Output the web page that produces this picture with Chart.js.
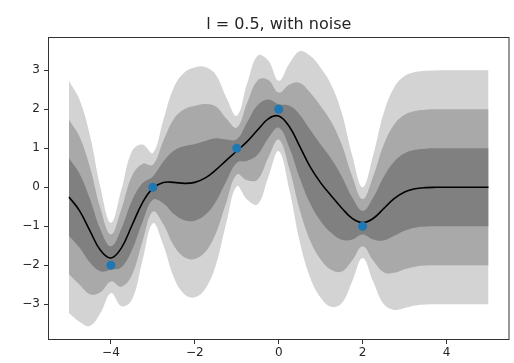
<!DOCTYPE html>
<html>
<head>
<meta charset="utf-8">
<script src="https://cdn.jsdelivr.net/npm/chart.js@4.4.1/dist/chart.umd.min.js"></script>
<style>
  html, body { margin: 0; padding: 0; background: #fff; }
</style>
</head>
<body>
<canvas id="chart-gp" width="514" height="363"></canvas>
<script>
// GP posterior (l = 0.5, with noise)
const xs = [-5, -4.75, -4.5, -4.25, -4, -3.75, -3.5, -3.25, -3, -2.75, -2.5, -2.25, -2, -1.75, -1.5, -1.25, -1, -0.75, -0.5, -0.25,
  0, 0.25, 0.5, 0.75, 1, 1.25, 1.5, 1.75, 2, 2.25, 2.5, 2.75, 3, 3.25, 3.5, 3.75, 4, 4.25, 4.5, 4.75, 5];
const meanY = [-0.250, -0.599, -1.117, -1.619, -1.815, -1.556, -0.982, -0.399, -0.023, 0.121, 0.125, 0.100, 0.125, 0.240, 0.444, 0.691, 0.930, 1.177, 1.473, 1.755,
  1.827, 1.558, 1.049, 0.524, 0.112, -0.219, -0.532, -0.799, -0.909, -0.802, -0.551, -0.295, -0.123, -0.040, -0.010, -0.002, 0, 0, 0, 0, 0];
const sdY = [0.992, 0.950, 0.814, 0.537, 0.301, 0.499, 0.636, 0.499, 0.301, 0.537, 0.814, 0.949, 0.983, 0.949, 0.814, 0.537, 0.301, 0.499, 0.636, 0.499,
  0.301, 0.537, 0.814, 0.949, 0.983, 0.950, 0.816, 0.540, 0.302, 0.540, 0.816, 0.951, 0.992, 0.999, 1, 1, 1, 1, 1, 1, 1];
const obsX = [-4, -3, -1, 0, 2];
const obsY = [-2, 0, 1, 2, -1];
const xTicks = [-4, -2, 0, 2, 4];
const yTicks = [-3, -2, -1, 0, 1, 2, 3];
const titleText = "l = 0.5, with noise";

const FONT = "DejaVu Sans";
const TEXT = "#262626";
const TENSION = 0.4;

function band(k) {
  return xs.map((x, i) => ({ x: x, y: meanY[i] + k * sdY[i] }));
}

function edge(k, color, fill) {
  return {
    data: band(k),
    borderColor: "rgba(0,0,0,0)",
    borderWidth: 0,
    backgroundColor: color,
    pointRadius: 0,
    tension: TENSION,
    fill: fill
  };
}

// frame + title centred over the axes
const framePlugin = {
  id: "frame",
  afterDraw(chart) {
    const { ctx, chartArea: a } = chart;
    ctx.save();
    ctx.strokeStyle = "#333";
    ctx.lineWidth = 1;
    ctx.strokeRect(a.left + 0.5, a.top + 0.5, a.right - a.left - 1, a.bottom - a.top - 1);
    ctx.fillStyle = TEXT;
    ctx.font = "16px '" + FONT + "'";
    ctx.textAlign = "center";
    ctx.textBaseline = "alphabetic";
    ctx.fillText(titleText, (a.left + a.right) / 2, 29);
    ctx.restore();
  }
};

const minus = (v) => String(v).replace("-", "\u2212");

new Chart(document.getElementById("chart-gp"), {
  type: "line",
  data: {
    datasets: [
      {
        data: obsX.map((x, i) => ({ x: x, y: obsY[i] })),
        showLine: false,
        pointRadius: 4.5,
        pointBackgroundColor: "#1f77b4",
        pointBorderWidth: 0
      },
      {
        data: xs.map((x, i) => ({ x: x, y: meanY[i] })),
        borderColor: "#000",
        borderWidth: 1.6,
        pointRadius: 0,
        tension: TENSION,
        fill: false
      },
      edge(1, "#808080", false),
      edge(-1, "#808080", "-1"),
      edge(2, "#a9a9a9", false),
      edge(-2, "#a9a9a9", "-1"),
      edge(3, "#d3d3d3", false),
      edge(-3, "#d3d3d3", "-1")
    ]
  },
  options: {
    responsive: false,
    devicePixelRatio: 1,
    animation: false,
    layout: { padding: { top: 37, right: 1, left: 0, bottom: 0 } },
    plugins: {
      legend: { display: false },
      tooltip: { enabled: false },
      title: { display: false }
    },
    scales: {
      x: {
        type: "linear",
        min: -5.5,
        max: 5.5,
        afterBuildTicks: (s) => { s.ticks = xTicks.map((v) => ({ value: v })); },
        afterFit: (s) => { s.height = 23; },
        ticks: {
          autoSkip: false,
          maxRotation: 0,
          padding: 2,
          color: TEXT,
          font: { family: FONT, size: 12 },
          callback: minus
        },
        grid: { drawOnChartArea: false, drawTicks: true, tickLength: 4, color: "#333" },
        border: { display: false }
      },
      y: {
        type: "linear",
        min: -3.92,
        max: 3.855,
        afterBuildTicks: (s) => { s.ticks = yTicks.map((v) => ({ value: v })); },
        afterFit: (s) => { s.width = 48; },
        ticks: {
          autoSkip: false,
          padding: 4,
          color: TEXT,
          font: { family: FONT, size: 12 },
          callback: minus
        },
        grid: { drawOnChartArea: false, drawTicks: true, tickLength: 4, color: "#333" },
        border: { display: false }
      }
    }
  },
  plugins: [framePlugin]
});
</script>
</body>
</html>
